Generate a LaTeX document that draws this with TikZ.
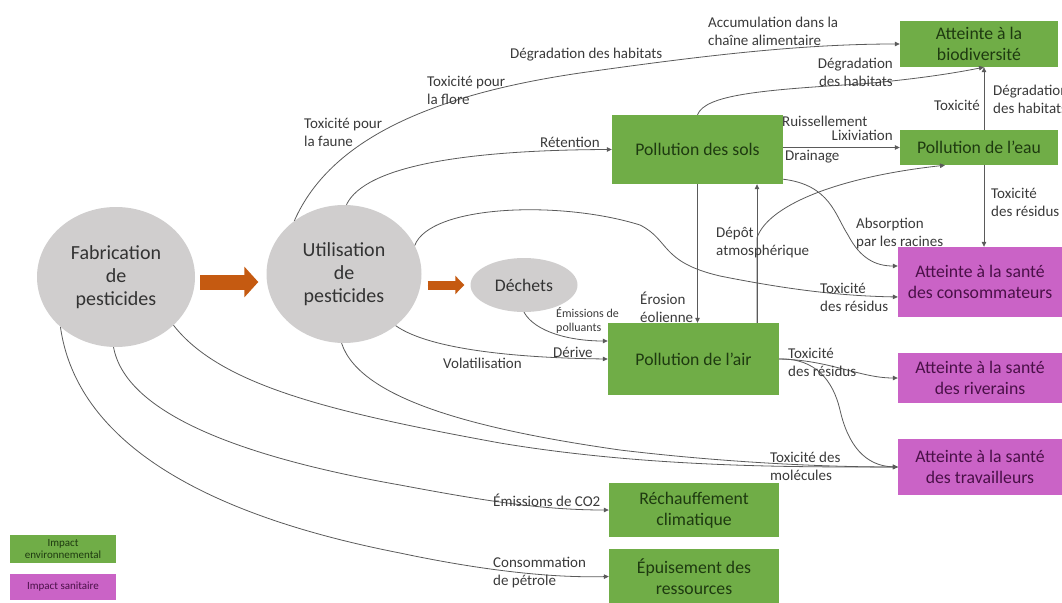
\documentclass[tikz,border=0pt]{standalone}
\usepackage{fontspec}
\setmainfont{Carlito}
\usetikzlibrary{arrows.meta,shapes.geometric}
\definecolor{envgreen}{HTML}{70AD47}
\definecolor{sanmag}{HTML}{CA63C6}
\definecolor{ellgray}{HTML}{D0CECE}
\definecolor{orarrow}{HTML}{C55A11}
\definecolor{linegray}{HTML}{5A5A5A}
\definecolor{labtext}{HTML}{3A3A3A}
\definecolor{gtext}{HTML}{1E3A10}
\definecolor{mtext}{HTML}{4A1048}
\definecolor{etext}{HTML}{333333}
\begin{document}
\begin{tikzpicture}[x=1pt,y=-1pt,
  envbox/.style={rectangle, fill=envgreen, text=gtext, inner sep=0pt, align=center, font=\fontsize{17.7}{21}\selectfont},
  sanbox/.style={rectangle, fill=sanmag, text=mtext, inner sep=0pt, align=center, font=\fontsize{17.7}{21}\selectfont},
  ellnode/.style={ellipse, fill=ellgray, text=etext, inner sep=0pt, align=center, font=\fontsize{20}{23}\selectfont},
  lab/.style={inner sep=0pt, align=left, text=labtext, font=\fontsize{15}{18}\selectfont, anchor=west},
  smalllab/.style={lab, font=\fontsize{12}{14}\selectfont},
  conn/.style={draw=linegray, line width=0.8pt, -{Triangle[length=5pt,width=4.5pt]}},
  fatarrow/.style={draw=orarrow, fill=orarrow}
]
\useasboundingbox (0,0) rectangle (1062,602);

% main nodes
\node[ellnode, minimum width=158pt, minimum height=140pt] (fab) at (116,277) {Fabrication\\de\\pesticides};
\node[ellnode, minimum width=155pt, minimum height=138pt] (uti) at (344,274) {Utilisation\\de\\pesticides};
\node[ellnode, minimum width=107pt, minimum height=54pt, font=\fontsize{17.7}{21}\selectfont] (dec) at (524,285) {Déchets};

\node[envbox, minimum width=171pt, minimum height=69pt] (sols) at (697.5,149.5) {Pollution des sols};
\node[envbox, minimum width=171pt, minimum height=72pt] (air) at (693.5,359) {Pollution de l’air};
\node[envbox, minimum width=158pt, minimum height=35pt] (eau) at (979,147.5) {Pollution de l’eau};
\node[envbox, minimum width=158pt, minimum height=46pt] (bio) at (979,44) {Atteinte à la\\biodiversité};
\node[envbox, minimum width=170pt, minimum height=54pt] (rech) at (694,510) {Réchauffement\\climatique};
\node[envbox, minimum width=170pt, minimum height=55pt] (epu) at (694,576.5) {Épuisement des\\ressources};

\node[sanbox, minimum width=164pt, minimum height=70pt] (cons) at (980,282) {Atteinte à la santé\\des consommateurs};
\node[sanbox, minimum width=164pt, minimum height=50pt] (riv) at (980,378) {Atteinte à la santé\\des riverains};
\node[sanbox, minimum width=164pt, minimum height=56pt] (trav) at (980,467) {Atteinte à la santé\\des travailleurs};

% legend
\node[envbox, minimum width=106pt, minimum height=28pt, font=\fontsize{11}{11.5}\selectfont] (legenv) at (63,549) {Impact\\environnemental};
\node[sanbox, minimum width=106pt, minimum height=26pt, font=\fontsize{11}{12}\selectfont] (legsan) at (63,587) {Impact sanitaire};

% orange arrows
\draw[fatarrow, line width=15pt, -{Triangle[length=14pt,width=30pt]}] ([xshift=5pt,yshift=-5pt]fab.east) -- ([xshift=-8pt,yshift=-8pt]uti.west);
\draw[fatarrow, line width=9pt, -{Triangle[length=9pt,width=18pt]}] ([xshift=6pt,yshift=-11pt]uti.east) -- ([xshift=-6pt]dec.west);

% connectors
\draw[conn] (uti.133) .. controls (330,140) and (430,95) .. (580,73) .. controls (700,56) and (800,44) .. (bio.west);
\draw[conn] (uti.88) .. controls (365,165) and (470,150) .. (sols.west);
\draw[conn] (sols.east |- eau.west) -- (eau.west);
\draw[conn] (sols.north) .. controls (705,95) and (760,90) .. (860,84) .. controls (920,79) and (960,72) .. ([xshift=5pt]bio.south);
\draw[conn] ([xshift=5pt]eau.north) -- ([xshift=5pt]bio.south);
\draw[conn] ([xshift=5pt]eau.south) -- ([xshift=4pt]cons.north);
\draw[conn] (sols.south) -- (sols.south |- air.north);
\coordinate (dep) at ([xshift=63.5pt]air.north);
\draw[conn] (dep) -- (dep |- sols.south);
\draw[conn] (dep) -- ++(0,-85) .. controls +(10,-30) and (830,178) .. ([xshift=-34pt]eau.south);
\draw[conn] ([yshift=5pt]sols.south east) .. controls (830,185) and (835,215) .. (848,235) .. controls (860,258) and (875,266) .. ([yshift=16pt]cons.west);
\draw[conn] (uti.22) .. controls (430,205) and (560,200) .. (640,225) .. controls (670,240) and (660,262) .. (720,276) .. controls (800,292) and (850,296) .. ([yshift=-15pt]cons.west);
\draw[conn] (dec.south) .. controls (535,332) and (570,341) .. ([yshift=18pt]air.west);
\draw[conn] (uti.-45) .. controls (430,350) and (520,358) .. (air.west);
\draw[conn] (uti.-92) .. controls (360,400) and (480,430) .. (620,450) .. controls (720,462) and (820,467) .. (trav.west);
\draw[conn] (fab.-40) .. controls (220,385) and (330,412) .. (500,443) .. controls (650,468) and (800,467) .. (trav.west);
\draw[conn] (fab.-92) .. controls (125,410) and (230,455) .. (400,485) .. controls (480,500) and (540,510) .. (rech.west);
\draw[conn] (fab.-138) .. controls (75,430) and (180,510) .. (400,553) .. controls (480,570) and (550,578) .. (epu.west);
\draw[conn] (air.east) .. controls (830,360) and (860,378) .. (riv.west);
\draw[conn] (air.east) .. controls (815,358) and (833,380) .. (840,410) .. controls (848,445) and (865,466) .. (trav.west);

% labels
\node[lab] (l1) at (304,132) {Toxicité pour\\la faune};
\node[lab] (l2) at (427,90) {Toxicité pour\\la flore};
\node[lab] (l3) at (510,55) {Dégradation des habitats};
\node[lab] (l4) at (708,31) {Accumulation dans la\\chaîne alimentaire};
\node[lab] (l5) at (540,142) {Rétention};
\node[lab, align=right, anchor=east] (l6) at (893,72) {Dégradation\\des habitats};
\node[lab] (l7) at (782,121) {Ruissellement};
\node[lab, anchor=east] (l8) at (893,135) {Lixiviation};
\node[lab] (l9) at (785,157) {Drainage};
\node[lab, anchor=east] (l10) at (980,105) {Toxicité};
\node[lab] (l11) at (993,99) {Dégradation\\des habitats};
\node[lab] (l12) at (991,202) {Toxicité\\des résidus};
\node[lab] (l13) at (716,243) {Dépôt\\atmosphérique};
\node[lab] (l14) at (856,233) {Absorption\\par les racines};
\node[lab] (l15) at (820,297) {Toxicité\\des résidus};
\node[lab] (l16) at (640,307) {Érosion\\éolienne};
\node[smalllab] (l17) at (556,320) {Émissions de\\polluants};
\node[lab] (l18) at (553,352) {Dérive};
\node[lab] (l19) at (443,363) {Volatilisation};
\node[lab] (l20) at (788,362) {Toxicité\\des résidus};
\node[lab] (l21) at (770,466) {Toxicité des\\molécules};
\node[lab] (l22) at (493,500) {Émissions de CO2};
\node[lab] (l23) at (493,573) {Consommation\\de pétrole};
\end{tikzpicture}
\end{document}
